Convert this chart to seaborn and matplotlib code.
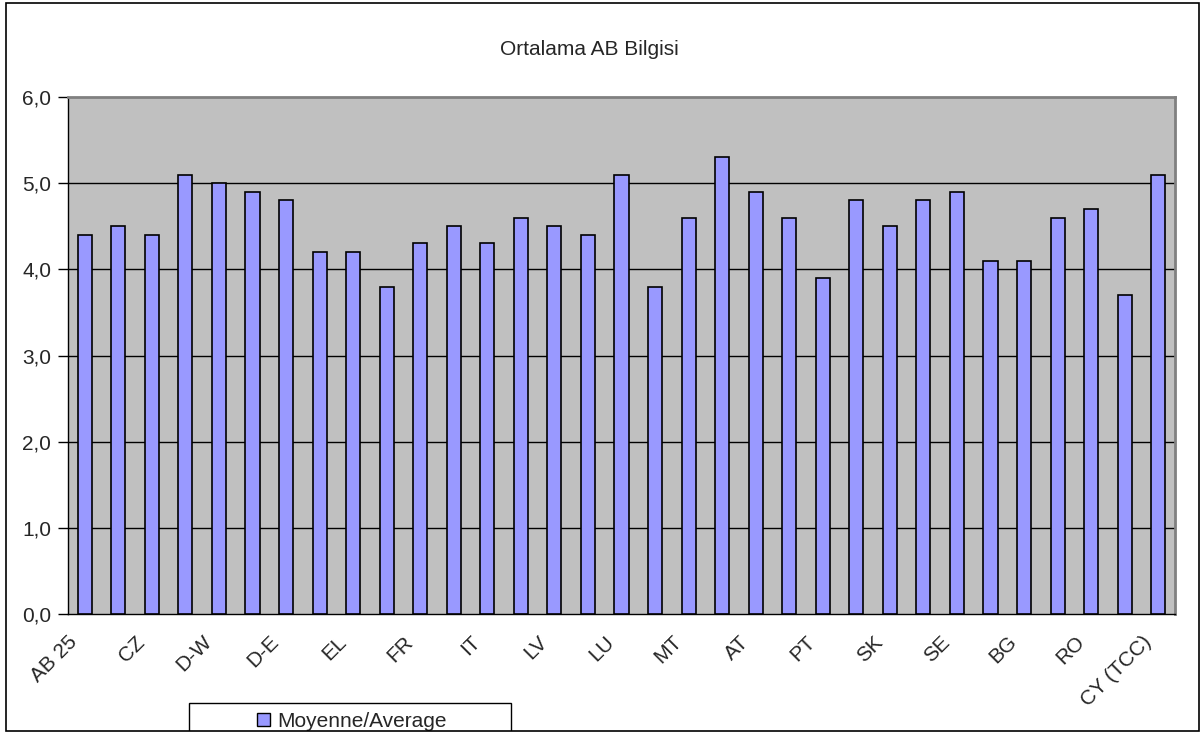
import matplotlib.pyplot as plt
import matplotlib.patches as mpatches
import seaborn as sns
import numpy as np
import pandas as pd

# chart data
countries = ["AB 25", "BE", "CZ", "DK", "D-W", "DE", "D-E", "EE", "EL", "ES",
             "FR", "IE", "IT", "CY", "LV", "LT", "LU", "HU", "MT", "NL",
             "AT", "PL", "PT", "SI", "SK", "FI", "SE", "UK", "BG", "HR",
             "RO", "TR", "CY (TCC)"]
average = [4.4, 4.5, 4.4, 5.1, 5.0, 4.9, 4.8, 4.2, 4.2, 3.8,
           4.3, 4.5, 4.3, 4.6, 4.5, 4.4, 5.1, 3.8, 4.6, 5.3,
           4.9, 4.6, 3.9, 4.8, 4.5, 4.8, 4.9, 4.1, 4.1, 4.6,
           4.7, 3.7, 5.1]
y_ticks = [0.0, 1.0, 2.0, 3.0, 4.0, 5.0, 6.0]

sns.set_style("white")
plt.rcParams['font.family'] = ['Liberation Sans', 'DejaVu Sans']

df = pd.DataFrame({"Country": countries, "Average": average})

W, H = 1200, 733
fig = plt.figure(figsize=(12, 7.33), dpi=100)
ax = fig.add_axes([68 / W, 1 - 614 / H, 1107 / W, 517 / H])
ax.set_facecolor("#C0C0C0")

sns.barplot(data=df, x="Country", y="Average", color="#9999FF", saturation=1,
            width=0.42, edgecolor="black", linewidth=1.2, ax=ax, zorder=3)

ax.set_ylim(0, 6)
ax.set_xlim(-0.5, len(countries) - 0.5)
ax.set_yticks(y_ticks)
ax.set_yticklabels([f"{v:.1f}".replace(".", ",") for v in y_ticks], fontsize=15)
for v in y_ticks[1:-1]:
    ax.axhline(v, color="black", linewidth=1, zorder=1)

# labels on every other bar (nudged left a little), tick marks between categories
pos = np.arange(len(countries))
ax.set_xticks(pos[::2] - 0.3)
ax.set_xticklabels(countries[::2], rotation=45, ha="right", va="center",
                   rotation_mode="anchor", fontsize=15)
ax.set_xticks(np.arange(len(countries) + 1) - 0.5, minor=True)
ax.tick_params(axis="x", which="major", length=0, pad=18)
ax.tick_params(axis="x", which="minor", length=6, color="black", width=1, direction="out")
ax.tick_params(axis="y", length=7, color="black", width=1, direction="out", left=True, pad=5)
ax.set_xlim(-0.5, len(countries) - 0.5)
ax.set_xlabel("")
ax.set_ylabel("")

for side in ["top", "right"]:
    ax.spines[side].set_color("#808080")
    ax.spines[side].set_linewidth(2)
for side in ["left", "bottom"]:
    ax.spines[side].set_color("black")
    ax.spines[side].set_linewidth(1)

fig.text(589 / W, 1 - 55 / H, "Ortalama AB Bilgisi", ha="center", va="baseline", fontsize=15)

# legend, cut off by the bottom of the chart frame
handle = mpatches.Patch(facecolor="#9999FF", edgecolor="black", label="Moyenne/Average")
leg = fig.legend(handles=[handle], loc="upper center", fontsize=15, frameon=False,
                 handlelength=0.6, handleheight=0.6, handletextpad=0.35,
                 bbox_to_anchor=(352 / W, 1 - 712 / H), borderpad=0, borderaxespad=0)
leg.set_zorder(5)
fig.patches.append(mpatches.Rectangle((189 / W, 1 - 740 / H), 322 / W, 37 / H,
                                      transform=fig.transFigure, fill=False,
                                      edgecolor="black", linewidth=1, zorder=4))
fig.patches.append(mpatches.Rectangle((0, 0), 1, 2 / H, transform=fig.transFigure,
                                      facecolor="white", edgecolor="none", zorder=9))

# outer frame of the chart
fig.patches.append(mpatches.Rectangle((6 / W, 1 - 731 / H), 1193 / W, 728 / H,
                                      transform=fig.transFigure, fill=False,
                                      edgecolor="black", linewidth=1.2, zorder=10))

fig.savefig("out.png", dpi=100)
